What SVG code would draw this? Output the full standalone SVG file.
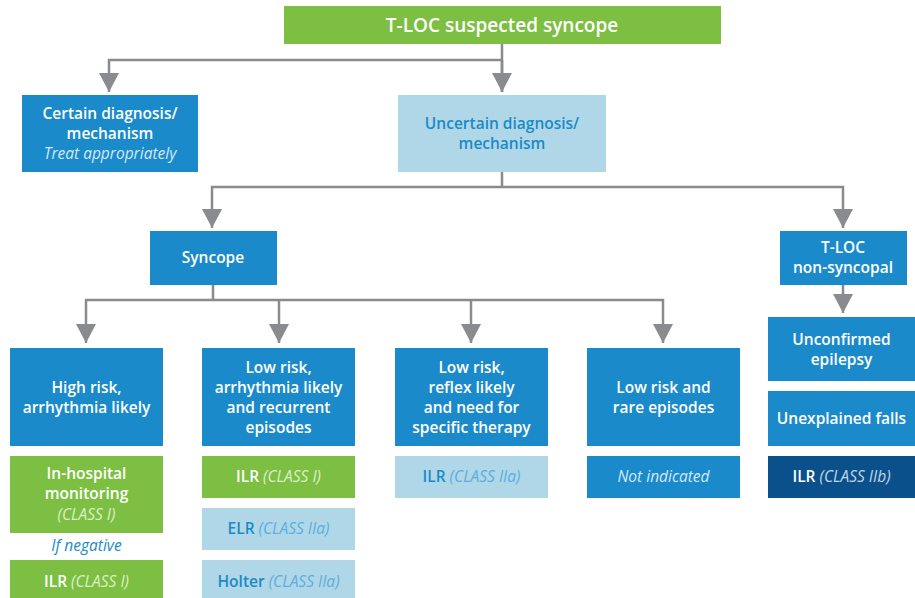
<svg xmlns="http://www.w3.org/2000/svg" width="915" height="598" viewBox="0 0 915 598">
<defs>
<marker id="arr" viewBox="0 -10 19 20" markerWidth="19" markerHeight="20" refX="19" refY="0" orient="auto" markerUnits="userSpaceOnUse">
<path d="M0,-10 L19,0 L0,10 z" fill="#8a8b8e"/>
</marker>
<style>
.g{fill:#7cbf42}.b{fill:#1b8acb}.l{fill:#b0d7e7}.d{fill:#0a518c}
text{font-family:"Open Sans","Noto Sans",sans-serif;text-anchor:middle;font-size:15.5px}
.w{fill:#ffffff;font-weight:600}
.t{fill:#1a8ac9;font-weight:600}
.i{font-style:italic;font-weight:400}
.iw{fill:#dcefc8}.ib{fill:#5aaee0}.iu{fill:#d3e9f7}.id{fill:#c4d6e8}
.c{fill:none;stroke:#8a8b8e;stroke-width:2.5}
</style>
</defs>
<g id="connectors">
<path class="c" d="M502,44 V92"/>
<path class="c" d="M503,60 H109 V92" marker-end="url(#arr)"/>
<path class="c" d="M502,60 V92" marker-end="url(#arr)"/>
<path class="c" d="M502,172 V187"/>
<path class="c" d="M502,187 H212 V228" marker-end="url(#arr)"/>
<path class="c" d="M502,187 H843 V228" marker-end="url(#arr)"/>
<path class="c" d="M213,285 V300"/>
<path class="c" d="M213,300 H86 V343" marker-end="url(#arr)"/>
<path class="c" d="M213,300 H663 V343" marker-end="url(#arr)"/>
<path class="c" d="M279,300 V343" marker-end="url(#arr)"/>
<path class="c" d="M471,300 V343" marker-end="url(#arr)"/>
<path class="c" d="M843,285 V313" marker-end="url(#arr)"/>
</g>
<g id="n-top"><rect class="g" x="284" y="6" width="437" height="38"/><text class="w" x="502" y="32" style="font-size:19px">T-LOC suspected syncope</text></g>
<g id="n-certain"><rect class="b" x="22" y="95" width="176" height="77"/><text class="w" x="110" y="119">Certain diagnosis/</text><text class="w" x="110" y="139">mechanism</text><text class="i iu" x="110" y="159">Treat appropriately</text></g>
<g id="n-uncertain"><rect class="l" x="398" y="95" width="208" height="77"/><text class="t" x="502" y="129">Uncertain diagnosis/</text><text class="t" x="502" y="149">mechanism</text></g>
<g id="n-syncope"><rect class="b" x="150" y="231" width="127" height="54"/><text class="w" x="213" y="263">Syncope</text></g>
<g id="n-tloc"><rect class="b" x="780" y="231" width="127" height="54"/><text class="w" x="843" y="253">T-LOC</text><text class="w" x="843" y="273">non-syncopal</text></g>
<g id="n-high"><rect class="b" x="10" y="348" width="153" height="98"/><text class="w" x="86.5" y="393">High risk,</text><text class="w" x="86.5" y="413">arrhythmia likely</text></g>
<g id="n-lowarr"><rect class="b" x="202" y="348" width="153" height="98"/><text class="w" x="278.5" y="373">Low risk,</text><text class="w" x="278.5" y="393">arrhythmia likely</text><text class="w" x="278.5" y="413">and recurrent</text><text class="w" x="278.5" y="433">episodes</text></g>
<g id="n-lowref"><rect class="b" x="395" y="348" width="153" height="98"/><text class="w" x="471.5" y="373">Low risk,</text><text class="w" x="471.5" y="393">reflex likely</text><text class="w" x="471.5" y="413">and need for</text><text class="w" x="471.5" y="433">specific therapy</text></g>
<g id="n-lowrare"><rect class="b" x="587" y="348" width="153" height="98"/><text class="w" x="663.5" y="393">Low risk and</text><text class="w" x="663.5" y="413">rare episodes</text></g>
<g id="n-epilepsy"><rect class="b" x="768" y="317" width="147" height="64"/><text class="w" x="841.5" y="345">Unconfirmed</text><text class="w" x="841.5" y="365">epilepsy</text></g>
<g id="n-falls"><rect class="b" x="768" y="391" width="147" height="55"/><text class="w" x="841.5" y="424">Unexplained falls</text></g>
<g id="n-inhosp"><rect class="g" x="10" y="456" width="153" height="77"/><text class="w" x="86.5" y="479">In-hospital</text><text class="w" x="86.5" y="499">monitoring</text><text class="i iw" x="86.5" y="520">(CLASS I)</text></g>
<g id="n-ifneg"><text class="t i" x="86.5" y="551">If negative</text></g>
<g id="n-ilr1"><rect class="g" x="10" y="560" width="153" height="38"/><text class="w" x="86.5" y="587">ILR <tspan class="i iw">(CLASS I)</tspan></text></g>
<g id="n-ilr2"><rect class="g" x="202" y="456" width="153" height="42"/><text class="w" x="278.5" y="482">ILR <tspan class="i iw">(CLASS I)</tspan></text></g>
<g id="n-elr"><rect class="l" x="202" y="508" width="153" height="42"/><text class="t" x="278.5" y="534">ELR <tspan class="i ib">(CLASS IIa)</tspan></text></g>
<g id="n-holter"><rect class="l" x="202" y="560" width="153" height="38"/><text class="t" x="278.5" y="587">Holter <tspan class="i ib">(CLASS IIa)</tspan></text></g>
<g id="n-ilr3"><rect class="l" x="395" y="456" width="153" height="42"/><text class="t" x="471.5" y="482">ILR <tspan class="i ib">(CLASS IIa)</tspan></text></g>
<g id="n-notind"><rect class="b" x="587" y="456" width="153" height="42"/><text class="i iu" x="663.5" y="482">Not indicated</text></g>
<g id="n-ilr4"><rect class="d" x="768" y="456" width="147" height="42"/><text class="w" x="841.5" y="482">ILR <tspan class="i id">(CLASS IIb)</tspan></text></g>
</svg>
